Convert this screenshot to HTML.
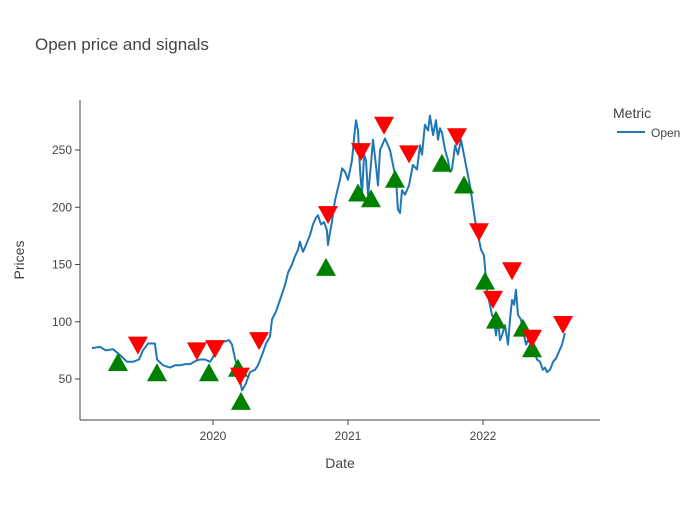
<!DOCTYPE html>
<html><head><meta charset="utf-8"><style>
body{margin:0;background:#fff;font-family:"Liberation Sans",Arial,sans-serif}
text{font-family:"Liberation Sans",Arial,sans-serif}
</style></head><body>
<svg id="chart" width="700" height="500" xmlns="http://www.w3.org/2000/svg">
<rect width="700" height="500" fill="#fff"/>
<text x="35" y="50" font-size="17" fill="#444">Open price and signals</text>
<line x1="80" y1="100" x2="80" y2="420" stroke="#444" stroke-width="1"/>
<line x1="80" y1="420" x2="600" y2="420" stroke="#444" stroke-width="1"/>
<g id="yticks"></g><g id="xticks"></g>
<text transform="translate(24,260) rotate(-90)" text-anchor="middle" font-size="14" fill="#444">Prices</text>
<text x="340" y="468" text-anchor="middle" font-size="14" fill="#444">Date</text>
<g id="plot"></g>
<g>
<text x="613" y="118" font-size="14" fill="#444">Metric</text>
<g>
<line x1="617" y1="132" x2="645" y2="132" stroke="#1f77b4" stroke-width="2"/>
<text x="651" y="137" font-size="12" fill="#444">Open</text></g>
</g>
</svg>
<script>
const lineDates=[2019.104,2019.163,2019.207,2019.259,2019.311,2019.363,2019.407,2019.452,2019.481,2019.519,2019.570,2019.585,2019.630,2019.681,2019.719,2019.756,2019.793,2019.830,2019.874,2019.904,2019.941,2019.978,2020.000,2020.037,2020.067,2020.119,2020.141,2020.163,2020.185,2020.215,2020.244,2020.274,2020.311,2020.333,2020.363,2020.393,2020.422,2020.437,2020.467,2020.496,2020.533,2020.556,2020.585,2020.607,2020.630,2020.644,2020.667,2020.689,2020.719,2020.741,2020.763,2020.778,2020.800,2020.822,2020.844,2020.852,2020.867,2020.881,2020.904,2020.926,2020.941,2020.956,2020.978,2021.000,2021.030,2021.044,2021.059,2021.074,2021.089,2021.104,2021.119,2021.133,2021.148,2021.163,2021.185,2021.207,2021.222,2021.237,2021.274,2021.311,2021.333,2021.356,2021.370,2021.385,2021.400,2021.422,2021.452,2021.481,2021.511,2021.533,2021.548,2021.570,2021.593,2021.607,2021.630,2021.652,2021.667,2021.681,2021.696,2021.719,2021.741,2021.756,2021.770,2021.793,2021.815,2021.837,2021.867,2021.904,2021.941,2021.963,2021.985,2022.007,2022.030,2022.044,2022.067,2022.081,2022.096,2022.111,2022.126,2022.141,2022.163,2022.185,2022.200,2022.215,2022.230,2022.244,2022.259,2022.281,2022.304,2022.319,2022.333,2022.356,2022.378,2022.400,2022.422,2022.444,2022.459,2022.474,2022.496,2022.519,2022.541,2022.563,2022.585,2022.607];
const openValues=[77,78,75,76,71,65,65,67,75,81,81,67,62,60,62,62,63,63,66,67,67,65,69,79,82,84,80,68,58,40,46,56,58,62,71,81,87,102,109,119,132,143,150,157,163,170,161,167,176,185,191,193,185,187,180,167,178,187,206,217,224,234,231,224,241,259,276,267,233,211,246,241,211,228,259,237,219,250,260,250,237,224,198,195,215,211,219,237,233,254,246,272,267,280,263,276,259,269,265,250,241,231,233,254,246,259,241,219,189,176,163,158,128,119,106,103,88,102,84,88,97,80,102,119,115,128,106,102,88,80,84,80,75,67,65,58,60,56,58,65,68,74,80,90];
const buyDates=[2019.296,2019.585,2019.970,2020.185,2020.207,2020.837,2021.074,2021.170,2021.348,2021.696,2021.859,2022.015,2022.096,2022.296,2022.363];
const buyValues=[64,55,55,59,30,147,212,207,224,238,219,135,101,94,76];
const sellDates=[2019.444,2019.881,2020.015,2020.200,2020.341,2020.852,2021.096,2021.267,2021.452,2021.807,2021.970,2022.074,2022.215,2022.363,2022.593];
const sellValues=[80,75,77,53,84,194,249,272,247,262,179,120,145,86,98];
const yTickValues=[50,100,150,200,250];
const xTickValues=[2020,2021,2022];

const NS="http://www.w3.org/2000/svg";
function xs(t){return 213+(t-2020)*135;}
function ys(v){return 379-(v-50)*1.145;}
function mk(tag,attrs,parent){const e=document.createElementNS(NS,tag);for(const k in attrs)e.setAttribute(k,attrs[k]);parent.appendChild(e);return e;}
const yt=document.getElementById('yticks'),xt=document.getElementById('xticks'),plot=document.getElementById('plot');
yTickValues.forEach(v=>{
  const g=mk('g',{},yt);
  
  
  mk('line',{x1:75,x2:80,y1:ys(v),y2:ys(v),stroke:'#444'},g);
  const t=mk('text',{x:72,y:ys(v)+4,'text-anchor':'end','font-size':12,fill:'#444'},g);t.textContent=v;
});
xTickValues.forEach(v=>{
  const g=mk('g',{},xt);
  
  
  mk('line',{x1:xs(v),x2:xs(v),y1:420,y2:425,stroke:'#444'},g);
  const t=mk('text',{x:xs(v),y:440,'text-anchor':'middle','font-size':12,fill:'#444'},g);t.textContent=v;
});
const d=lineDates.map((t,i)=>(i?'L':'M')+xs(t).toFixed(1)+','+ys(openValues[i]).toFixed(1)).join('');
const path=mk('path',{d:d,fill:'none',stroke:'#1f77b4','stroke-width':2,'stroke-linejoin':'round'},plot);


buyDates.forEach((t,i)=>{
  const x=xs(t),y=ys(buyValues[i]);
  const p=mk('polygon',{points:`${x},${y-10} ${x-10},${y+8} ${x+10},${y+8}`,fill:'green'},plot);
  
  
});
sellDates.forEach((t,i)=>{
  const x=xs(t),y=ys(sellValues[i]);
  const p=mk('polygon',{points:`${x},${y+10} ${x-10},${y-8} ${x+10},${y-8}`,fill:'red'},plot);
  
  
});
</script>
</body></html>
